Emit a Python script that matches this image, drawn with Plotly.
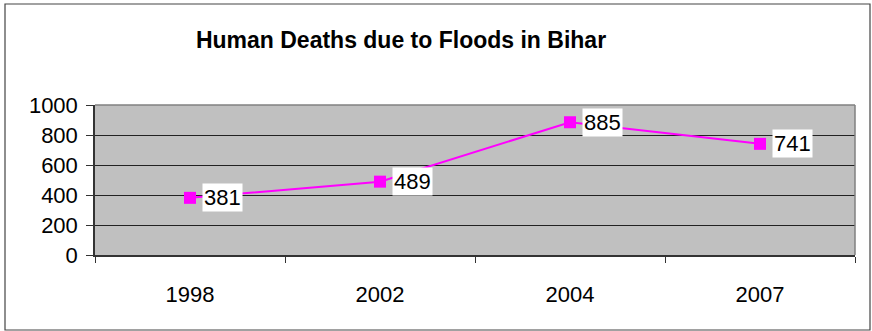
import plotly.graph_objects as go

# Flood deaths in Bihar by year
years = ["1998", "2002", "2004", "2007"]
deaths = [381, 489, 885, 741]
y_ticks = [0, 200, 400, 600, 800, 1000]

W, H = 872, 331
L, R, T, B = 95, 17, 105, 76
pw, ph = W - L - R, H - T - B

def px_x(p):
    return (p - L) / pw

def px_y(p):
    return (H - B - p) / ph

MAGENTA = "#FF00FF"
FONT = "Liberation Sans, Arial, sans-serif"

fig = go.Figure()
fig.add_trace(go.Scatter(
    x=years, y=deaths, mode="lines+markers",
    line=dict(color=MAGENTA, width=2),
    marker=dict(symbol="square", size=12, color=MAGENTA),
    showlegend=False, cliponaxis=False,
))

# value labels in white boxes right of each marker (x given as category index)
for i, v in enumerate(deaths):
    fig.add_annotation(
        x=i, y=v, xref="x", yref="y", text=str(v), showarrow=False,
        xanchor="left", yanchor="middle", xshift=12, yshift=0,
        bgcolor="white", borderpad=1,
        font=dict(family=FONT, size=22, color="black"),
    )

# outer chart frame
fig.add_shape(type="rect", xref="paper", yref="paper",
              x0=px_x(5), x1=px_x(870), y0=px_y(330), y1=px_y(4),
              line=dict(color="#444444", width=1.2), layer="below")
# top and right edges of the plot area
fig.add_shape(type="line", xref="paper", yref="paper", x0=0, x1=1, y0=1, y1=1,
              line=dict(color="#808080", width=1.5))
fig.add_shape(type="line", xref="paper", yref="paper", x0=1, x1=1, y0=0, y1=1,
              line=dict(color="#808080", width=1.5))

fig.update_layout(
    width=W, height=H,
    margin=dict(l=L, r=R, t=T, b=B),
    paper_bgcolor="white", plot_bgcolor="#C0C0C0",
    font=dict(family=FONT, size=22, color="black"),
    title=dict(text="<b>Human Deaths due to Floods in Bihar</b>",
               x=401 / W, xanchor="center", xref="container",
               y=1 - 40 / H, yanchor="middle", yref="container",
               font=dict(family=FONT, size=23, color="black")),
    xaxis=dict(
        type="category", range=[-0.5, 3.5],
        showgrid=False, showline=True, linecolor="#333333", linewidth=1.5,
        ticks="outside", tickson="boundaries", ticklen=6, tickcolor="#333333",
        tickfont=dict(size=22), ticklabelstandoff=19,
    ),
    yaxis=dict(
        range=[0, 1000], tickvals=y_ticks, ticktext=[str(t) for t in y_ticks],
        showgrid=True, gridcolor="#222222", gridwidth=1,
        showline=True, linecolor="#333333", linewidth=1.5,
        ticks="outside", ticklen=7, tickcolor="#333333",
        tickfont=dict(size=22), ticklabelstandoff=4, zeroline=False,
    ),
)

fig.write_html("out.html")
